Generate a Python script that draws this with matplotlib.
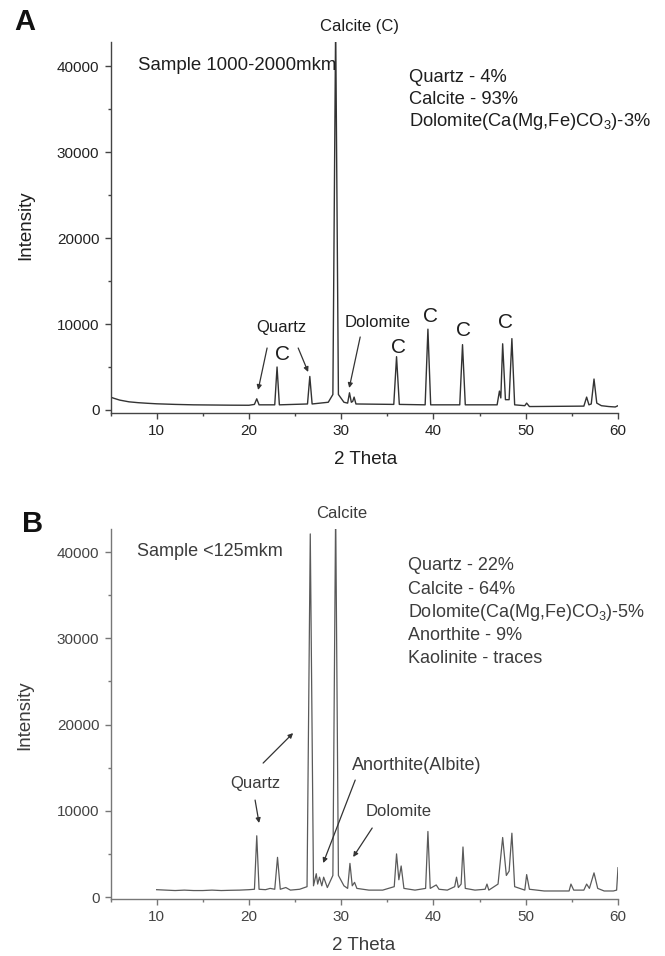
import numpy as np
import matplotlib
matplotlib.use("Agg")
import matplotlib.pyplot as plt

plt.rcParams['font.family'] = ['Liberation Sans', 'DejaVu Sans']
plt.rcParams['mathtext.fontset'] = 'custom'
plt.rcParams['mathtext.rm'] = 'Liberation Sans'
plt.rcParams['mathtext.default'] = 'regular'

# ---- data (2 theta in degrees, intensity in counts) ----
# panel A: sample 1000-2000 mkm
a_theta = [5.0, 5.4, 6.0, 7.0, 8.0, 9.0, 10.0, 12.0, 14.0, 16.0, 18.0, 20.0,
           20.6, 20.85, 21.1,
           22.8, 23.05, 23.3,
           26.35, 26.6, 26.85,
           28.6, 29.1, 29.4, 29.7, 30.3,
           30.7, 30.9, 31.1, 31.25, 31.4, 31.6,
           35.7, 36.0, 36.3,
           39.1, 39.4, 39.7,
           42.85, 43.15, 43.45,
           46.9, 47.15, 47.3, 47.5, 47.8, 48.2, 48.5, 48.8,
           49.9, 50.1, 50.4,
           56.3, 56.6, 56.85, 57.1, 57.4, 57.7,
           58.2, 59.0, 59.7, 60.0]
a_counts = [1500, 1350, 1150, 950, 850, 780, 720, 650, 600, 580, 560, 550,
            650, 1300, 600,
            600, 5000, 600,
            700, 3900, 700,
            900, 1800, 45000, 1800, 900,
            800, 2000, 900, 1000, 1500, 700,
            650, 6200, 650,
            600, 9400, 600,
            600, 7600, 600,
            600, 2200, 1400, 7700, 1200, 1200, 8300, 600,
            500, 800, 400,
            450, 1500, 600, 700, 3600, 800,
            500, 400, 350, 500]

# panel B: sample <125 mkm
b_theta = [10.0, 11.0, 12.0, 13.0, 14.0, 15.0, 16.0, 17.0, 18.0, 19.0, 20.0,
           20.6, 20.85, 21.1,
           21.8, 22.3, 22.8, 23.1, 23.4,
           24.0, 24.5, 25.5,
           26.3, 26.65, 27.0, 27.3, 27.45, 27.65, 27.9, 28.1,
           28.5, 29.1, 29.4, 29.7, 30.3,
           30.7, 30.95, 31.2, 31.45, 31.7,
           33.0, 34.5,
           35.75, 36.0, 36.25, 36.5, 36.8,
           38.0, 39.15, 39.4, 39.65, 40.3, 40.6,
           41.5, 42.3, 42.5, 42.7, 43.0, 43.2, 43.45,
           44.5, 45.6, 45.8, 46.0,
           47.0, 47.5, 47.9, 48.2, 48.5, 48.8,
           49.9, 50.1, 50.4,
           52.0, 54.7, 54.9, 55.2,
           56.3, 56.6, 56.9, 57.4, 57.8,
           58.5, 59.5, 59.85, 60.0]
b_counts = [850, 800, 750, 800, 750, 750, 800, 750, 780, 800, 850,
            900, 7100, 900,
            850, 1000, 900, 4600, 900,
            1100, 800, 900,
            1200, 42100, 1300, 2700, 1500, 2300, 1300, 2300,
            1100, 2500, 45000, 2500, 1300,
            1000, 3900, 1300, 1700, 1000,
            800, 800,
            1200, 5000, 2000, 3600, 1000,
            800, 1000, 7600, 1000, 1400, 900,
            800, 1200, 2300, 1100, 1500, 5800, 1000,
            800, 900, 1500, 800,
            1500, 6900, 2500, 3000, 7400, 1200,
            800, 2600, 900,
            700, 700, 1500, 800,
            800, 1500, 1000, 2800, 1000,
            700, 700, 800, 3400]

a_phases = ['Quartz - 4%', 'Calcite - 93%', 'Dolomite(Ca(Mg,Fe)CO$_3$)-3%']
b_phases = ['Quartz - 22%', 'Calcite - 64%', 'Dolomite(Ca(Mg,Fe)CO$_3$)-5%',
            'Anorthite - 9%', 'Kaolinite - traces']
c_peaks = [(23.6, 6510), (36.18, 7210), (39.65, 10820), (43.23, 9190), (47.78, 10120)]

W, H = 665, 956
fig = plt.figure(figsize=(W / 100, H / 100), dpi=100)


def fx(px):
    return px / W


def fy(py):
    return 1 - py / H


def setup(ax, ylim, col, tcol):
    ax.set_xlim(5, 60)
    ax.set_ylim(*ylim)
    for s in ['top', 'right']:
        ax.spines[s].set_visible(False)
    for s in ['left', 'bottom']:
        ax.spines[s].set_color(col)
        ax.spines[s].set_linewidth(1.0)
    ax.set_xticks([10, 20, 30, 40, 50, 60])
    ax.set_xticks([5, 15, 25, 35, 45, 55], minor=True)
    ax.set_yticks([0, 10000, 20000, 30000, 40000])
    ax.set_yticks([5000, 15000, 25000, 35000], minor=True)
    ax.tick_params(which='major', direction='out', length=4, width=1, color=col,
                   labelsize=11, labelcolor=tcol, pad=4)
    ax.tick_params(which='minor', direction='out', length=2.5, width=1, color=col)
    ax.patch.set_alpha(0)


# ---------------- panel A ----------------
axA = fig.add_axes([fx(110.5), fy(413), fx(618) - fx(110.5), fy(42) - fy(413)])
setup(axA, (-350, 42800), '#444444', '#222222')
axA.plot(a_theta, a_counts, color='#333333', lw=1.0)

tA = '#1e1e1e'
fig.text(fx(25), fy(22), 'A', fontsize=21, fontweight='bold', ha='center', va='center', color='#111111')
fig.text(fx(359), fy(27), 'Calcite (C)', fontsize=12, ha='center', va='center', color=tA)
fig.text(fx(138), fy(65), 'Sample 1000-2000mkm', fontsize=13.4, ha='left', va='center', color=tA)
for i, s in enumerate(a_phases):
    fig.text(fx(409), fy(77 + 22.5 * i), s, fontsize=13.2, ha='left', va='center', color=tA)
fig.text(fx(26), fy(225), 'Intensity', fontsize=13.5, rotation=90, ha='center', va='center', color=tA)
fig.text(fx(366), fy(459), '2 Theta', fontsize=13.5, ha='center', va='center', color=tA)

axA.text(23.49, 9650, 'Quartz', fontsize=12, ha='center', va='center', color=tA)
axA.text(33.9, 10120, 'Dolomite', fontsize=12, ha='center', va='center', color=tA)
for x, y in c_peaks:
    axA.text(x, y, 'C', fontsize=15, ha='center', va='center', color=tA)
arr = dict(arrowstyle='-|>', color='#333333', lw=0.9, mutation_scale=7, shrinkA=0, shrinkB=0)
axA.annotate('', xy=(21.0, 2330), xytext=(21.97, 7210), arrowprops=arr)
axA.annotate('', xy=(26.42, 4420), xytext=(25.34, 7210), arrowprops=arr)
axA.annotate('', xy=(30.87, 2560), xytext=(32.06, 8490), arrowprops=arr)

# ---------------- panel B ----------------
axB = fig.add_axes([fx(110.5), fy(899), fx(618) - fx(110.5), fy(529) - fy(899)])
setup(axB, (-230, 42670), '#777777', '#444444')
axB.plot(b_theta, b_counts, color='#5a5a5a', lw=0.9)

tB = '#3c3c3c'
fig.text(fx(33), fy(524), 'B', fontsize=21, fontweight='bold', ha='center', va='center', color='#111111')
fig.text(fx(342), fy(514), 'Calcite', fontsize=12, ha='center', va='center', color=tB)
fig.text(fx(137), fy(552), 'Sample <125mkm', fontsize=13, ha='left', va='center', color=tB)
for i, s in enumerate(b_phases):
    fig.text(fx(408), fy(566 + 23.2 * i), s, fontsize=13, ha='left', va='center', color=tB)
fig.text(fx(25), fy(715), 'Intensity', fontsize=13.5, rotation=90, ha='center', va='center', color=tB)
fig.text(fx(364), fy(945), '2 Theta', fontsize=13.5, ha='center', va='center', color=tB)

axB.text(20.67, 13210, 'Quartz', fontsize=12, ha='center', va='center', color=tB)
axB.text(38.24, 15300, 'Anorthite(Albite)', fontsize=13, ha='center', va='center', color=tB)
axB.text(36.18, 9970, 'Dolomite', fontsize=12, ha='center', va='center', color=tB)
arrB = dict(arrowstyle='-|>', color='#333333', lw=0.9, mutation_scale=7, shrinkA=0, shrinkB=0)
axB.annotate('', xy=(21.1, 8580), xytext=(20.67, 11240), arrowprops=arrB)
axB.annotate('', xy=(24.79, 19010), xytext=(21.54, 15530), arrowprops=arrB)
axB.annotate('', xy=(28.05, 3940), xytext=(31.52, 13560), arrowprops=arrB)
axB.annotate('', xy=(31.3, 4640), xytext=(33.36, 8000), arrowprops=arrB)

fig.savefig('out.png', dpi=100)
